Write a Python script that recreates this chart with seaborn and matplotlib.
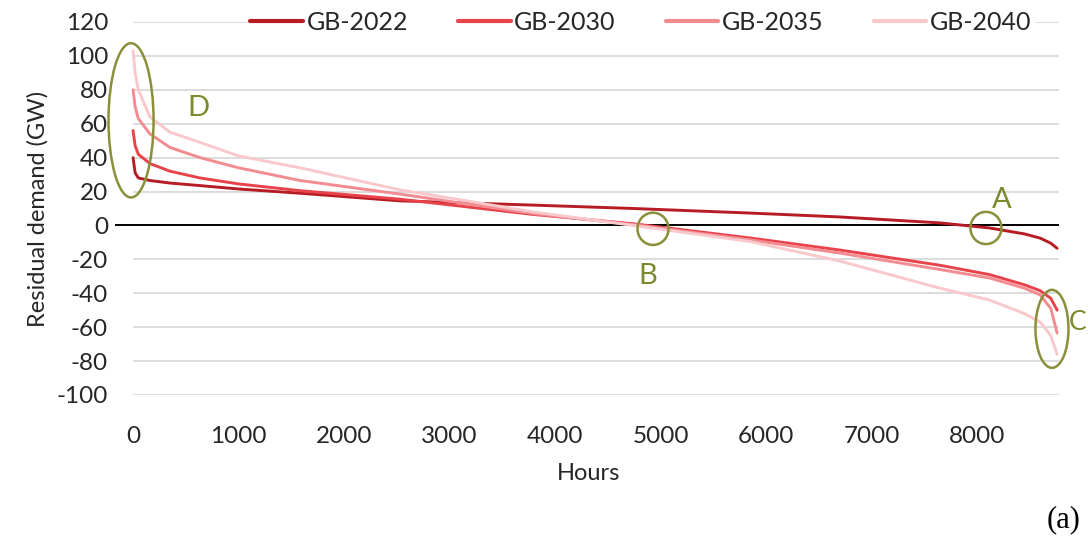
import numpy as np
import pandas as pd
import matplotlib
matplotlib.use("Agg")
import matplotlib.pyplot as plt
import seaborn as sns
from matplotlib.patches import Ellipse
from matplotlib.lines import Line2D

# ---- data ----
hours = [0, 20, 50, 160, 350, 635, 1000, 1583, 2530, 3790, 4740, 5850,
         6700, 7650, 8120, 8450, 8600, 8700, 8760]
gb_2022 = [40, 31, 28, 26.5, 25, 23.5, 21.5, 19, 14.5, 12, 10, 7.3,
           5, 1.5, -1.5, -5, -7.5, -10.5, -13.5]
gb_2030 = [56, 47, 42, 36.5, 32, 28, 24.5, 20.5, 15.5, 6.5, 1, -7.4,
           -14.5, -23.5, -29, -35, -38.5, -43, -50]
gb_2035 = [80, 70, 63, 54, 46, 40, 34, 26.5, 18.5, 7, 0.5, -8.5,
           -16.3, -26, -31, -37, -41, -49, -63.5]
gb_2040 = [103, 90, 80, 64, 55, 49, 41, 34, 21, 8, 0, -9.5,
           -21, -37, -44, -52, -57, -65, -76]
series_names = ["GB-2022", "GB-2030", "GB-2035", "GB-2040"]
series_values = [gb_2022, gb_2030, gb_2035, gb_2040]
y_ticks = list(range(-100, 121, 20))
x_ticks = list(range(0, 8001, 1000))

colors = ["#B71C24", "#E8434B", "#F28C91", "#F9C8CB"]
olive = "#8A8F3A"
olive_txt = "#7D8A2C"

df = pd.concat([pd.DataFrame({"Hours": hours, "Residual": v, "Series": n})
                for n, v in zip(series_names, series_values)], ignore_index=True)

sns.set_theme(style="white")
plt.rcParams["font.family"] = ["Lato", "DejaVu Sans"]
plt.rcParams["axes.unicode_minus"] = False

fig = plt.figure(figsize=(10.88, 5.39), dpi=100)
ax = fig.add_axes([0.1057, 0.2672, 0.8704, 0.692])

# gridlines
for yt in y_ticks:
    if yt != 0:
        ax.hlines(yt, 0, 8780, color="#D9D9D9", lw=1.3, zorder=0)
ax.hlines(0, -171, 8780, color="black", lw=1.4, zorder=1)

sns.lineplot(data=df, x="Hours", y="Residual", hue="Series",
             palette=dict(zip(series_names, colors)), estimator=None,
             lw=2.1, ax=ax, legend=False, zorder=2)

ax.set_xlim(-171, 8806)
ax.set_ylim(-100, 120)
ax.set_yticks(y_ticks)
ax.set_xticks(x_ticks)
ax.tick_params(axis="both", length=0, labelsize=17.5, colors="#262626")
ax.tick_params(axis="y", pad=5)
ax.tick_params(axis="x", pad=22)
for s in ax.spines.values():
    s.set_visible(False)
ax.set_xlabel("Hours", fontsize=17, color="#262626", labelpad=12)
ax.set_ylabel("Residual demand (GW)", fontsize=17, color="#262626", labelpad=6)

handles = [Line2D([0], [0], color=c, lw=3) for c in colors]
leg = ax.legend(handles, series_names, loc="center", ncol=4,
                bbox_to_anchor=(0.589, 0.959), bbox_transform=fig.transFigure,
                fontsize=18, frameon=True, facecolor="white", edgecolor="white",
                framealpha=1, handlelength=2.1, handletextpad=0.15,
                columnspacing=2.0, borderpad=0.1)
for t in leg.get_texts():
    t.set_color("#262626")

# annotations (ellipses and letters)
ann = [
    ((-19, 62), 427, 91),
    ((4929, -2), 294, 19),
    ((8085, -1.5), 294, 19),
    ((8711, -61), 313, 46),
]
for (cx, cy), w, h in ann:
    ax.add_patch(Ellipse((cx, cy), w, h, fill=False, ec=olive, lw=1.8,
                         clip_on=False, zorder=3))
ax.text(616, 69, "D", color=olive_txt, fontsize=21, ha="center", va="center")
ax.text(4882, -30, "B", color=olive_txt, fontsize=21, ha="center", va="center")
ax.text(8237, 15, "A", color=olive_txt, fontsize=21, ha="center", va="center")
ax.text(8870, -57.5, "C", color=olive_txt, fontsize=19, ha="left", va="center",
        clip_on=False)

fig.text(0.962, 0.036, "(a)", fontsize=22, family="Liberation Serif",
         ha="left", va="center", color="black")

fig.savefig("out.png", dpi=100, facecolor="white")
